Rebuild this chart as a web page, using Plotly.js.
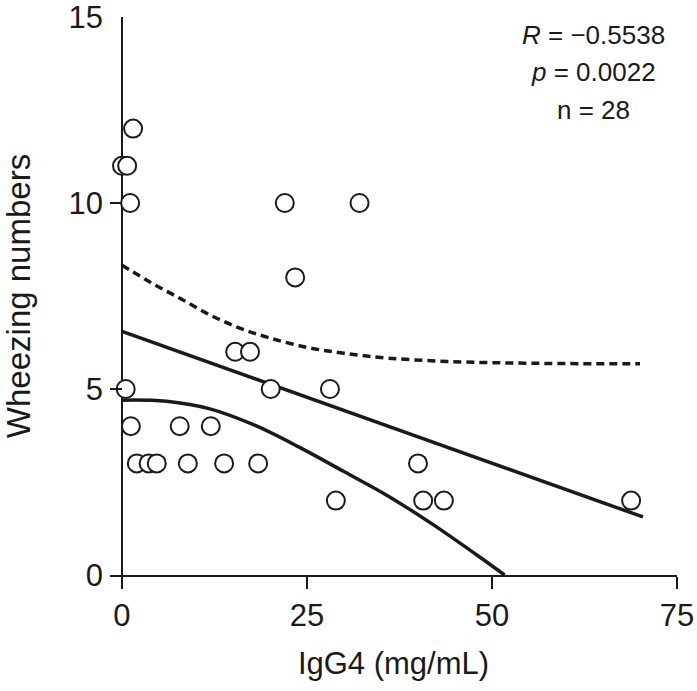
<!DOCTYPE html>
<html>
<head>
<meta charset="utf-8">
<script src="https://cdn.plot.ly/plotly-3.0.1.min.js"></script>
<style>html,body{margin:0;padding:0;background:#fff;}#chart{width:697px;height:691px;}</style>
</head>
<body>
<div id="chart"></div>
<script>
// Scatter data (IgG4 mg/mL vs wheezing numbers)
var igg4 = [0, 0.7, 1.5, 1.1, 0.5, 1.2, 2.0, 3.6, 4.7, 7.8, 8.9, 12.0, 13.8, 15.3, 17.3, 18.4, 20.1, 22.0, 23.4, 28.1, 28.9, 32.1, 40.0, 40.7, 43.5, 68.8];
var wheeze = [11, 11, 12, 10, 5, 4, 3, 3, 3, 4, 3, 4, 3, 6, 6, 3, 5, 10, 8, 5, 2, 10, 3, 2, 2, 2];

// Regression line
var fitX = [0, 70.4];
var fitY = [6.55, 1.56];

// Lower band (solid curve)
var lowX = [0, 6, 12, 18, 24, 30, 36, 42, 48, 51.7];
var lowY = [4.70, 4.67, 4.46, 4.02, 3.43, 2.78, 2.12, 1.36, 0.53, 0.0];

// Upper band (dashed curve)
var upX = [0, 4, 8, 12, 16, 20, 25, 30, 36, 44, 56, 70];
var upY = [8.33, 7.85, 7.42, 6.98, 6.63, 6.37, 6.12, 5.96, 5.83, 5.74, 5.69, 5.68];

var xTicks = [0, 25, 50, 75];
var yTicks = [0, 5, 10, 15];
var statLines = ["<i>R</i> = \u22120.5538", "<i>p</i> = 0.0022", "n = 28"];

var FONT = "Liberation Sans, Arial, Helvetica, sans-serif";

var traces = [
  {x: upX, y: upY, mode: "lines", line: {color: "#1a1a1a", width: 3.5, dash: "8px,5px", shape: "spline", smoothing: 1}, hoverinfo: "skip"},
  {x: lowX, y: lowY, mode: "lines", line: {color: "#1a1a1a", width: 3.5, shape: "spline", smoothing: 1}, hoverinfo: "skip"},
  {x: fitX, y: fitY, mode: "lines", line: {color: "#1a1a1a", width: 3.5}, hoverinfo: "skip"},
  {x: igg4, y: wheeze, mode: "markers", cliponaxis: false,
   marker: {symbol: "circle", size: 18, color: "#ffffff", line: {color: "#1a1a1a", width: 2}}}
];

var annYs = [0.968, 0.901, 0.834];
var annotations = statLines.map(function(t, i){
  return {text: t, xref: "paper", yref: "paper", x: 0.852, y: annYs[i], xanchor: "center", yanchor: "middle",
          showarrow: false, font: {family: FONT, size: 26, color: "#1a1a1a"}};
});

var layout = {
  width: 697, height: 691,
  margin: {l: 110, r: 20, t: 17, b: 116},
  paper_bgcolor: "#fff", plot_bgcolor: "#fff",
  showlegend: false,
  font: {family: FONT, color: "#1a1a1a"},
  xaxis: {
    range: [-1.62, 75], tickvals: xTicks, ticktext: xTicks.map(String),
    showgrid: false, showline: true, linecolor: "#1a1a1a", linewidth: 2,
    ticks: "outside", ticklen: 12, tickwidth: 2, tickcolor: "#1a1a1a",
    tickfont: {size: 31, family: FONT, color: "#1a1a1a"},
    ticklabeloverflow: "allow",
    zeroline: true, zerolinecolor: "#1a1a1a", zerolinewidth: 2,
    title: {text: "IgG4 (mg/mL)", font: {size: 31, family: FONT, color: "#1a1a1a"}, standoff: 20},
    automargin: false
  },
  yaxis: {
    range: [0, 15], tickvals: yTicks, ticktext: yTicks.map(String),
    showgrid: false, showline: false, zeroline: false,
    ticks: "inside", ticklen: 12, tickwidth: 2, tickcolor: "#1a1a1a",
    ticklabelstandoff: 6, ticklabeloverflow: "allow",
    tickfont: {size: 31, family: FONT, color: "#1a1a1a"},
    title: {text: "Wheezing numbers", font: {size: 33, family: FONT, color: "#1a1a1a"}, standoff: 27},
    automargin: false
  },
  annotations: annotations
};

Plotly.newPlot("chart", traces, layout, {staticPlot: true, displayModeBar: false});
</script>
</body>
</html>
